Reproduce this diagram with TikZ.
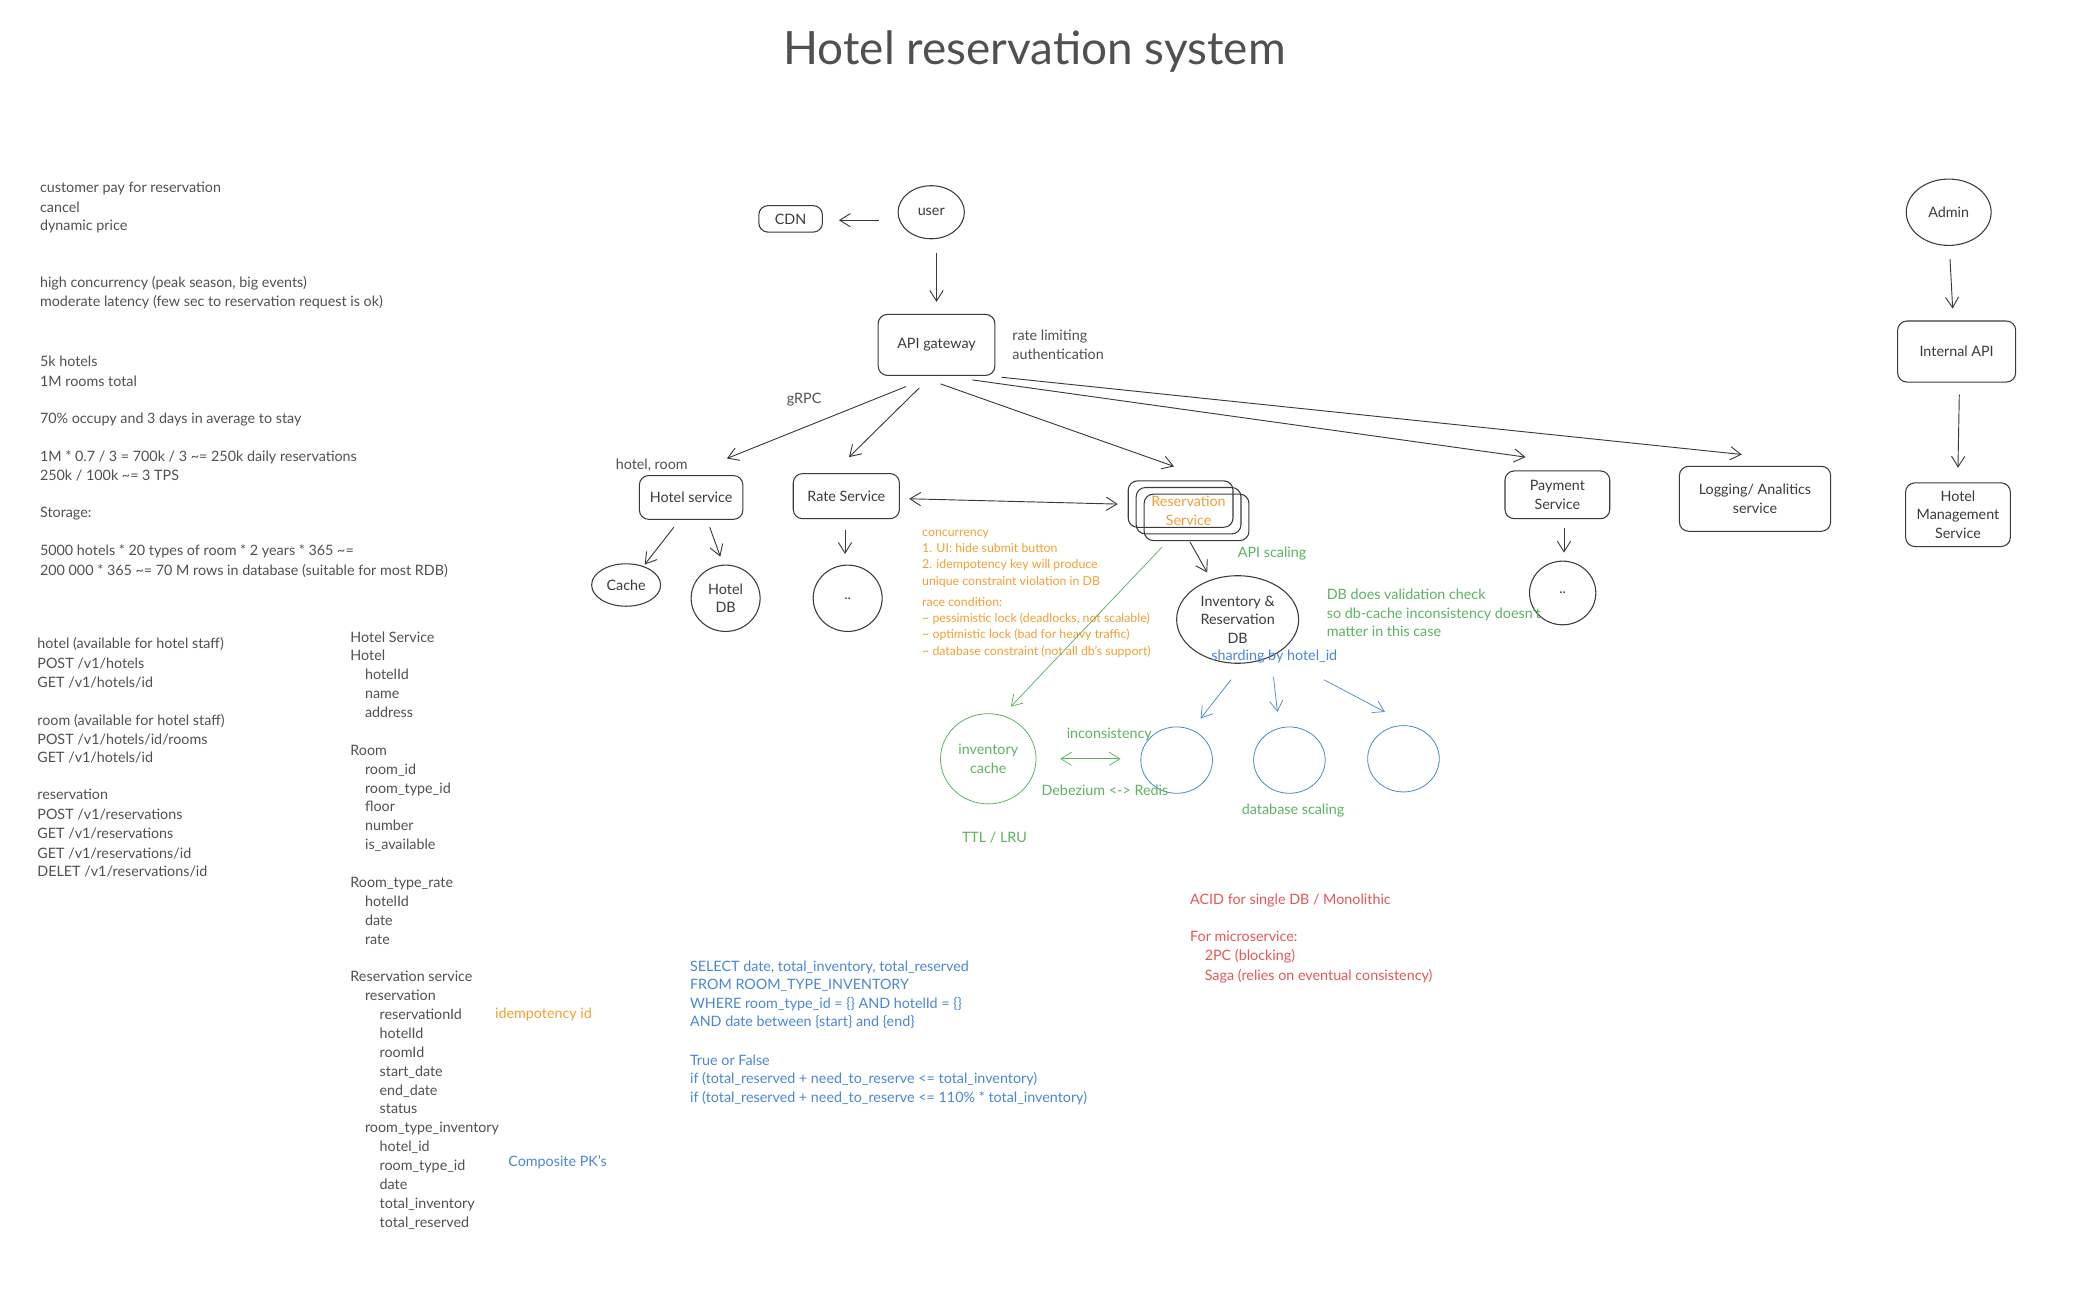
\documentclass[tikz,border=0pt]{standalone}
\usepackage{fontspec}
\setmainfont{Lato}
\usetikzlibrary{arrows.meta,shapes.geometric,calc}
\definecolor{ink}{HTML}{3A3A3A}
\definecolor{txt}{HTML}{505050}
\definecolor{orn}{HTML}{F0A033}
\definecolor{grn}{HTML}{5DB160}
\definecolor{blu}{HTML}{4A86D6}
\definecolor{rd}{HTML}{E35656}
\begin{document}
\begin{tikzpicture}[x=1pt,y=-1pt,
  every node/.style={font=\fontsize{10.8}{14}\selectfont, text=txt},
  box/.style={draw=ink, line width=0.8pt, rounded corners=7pt, align=center, inner sep=2pt, text=ink},
  oval/.style={ellipse, draw=ink, line width=0.8pt, align=center, inner sep=0pt, text=ink},
  arr/.style={draw=ink, line width=0.7pt, -{Straight Barb[length=8pt,width=10pt]}},
  darr/.style={draw=ink, line width=0.7pt, {Straight Barb[length=8pt,width=10pt]}-{Straight Barb[length=8pt,width=10pt]}},
  garr/.style={arr, draw=grn, line width=0.55pt},
  gdarr/.style={darr, draw=grn, line width=0.55pt},
  barr/.style={arr, draw=blu, line width=0.55pt},
  lbl/.style={anchor=base west, inner sep=0pt},
  small/.style={font=\fontsize{9.3}{11}\selectfont},
]
\useasboundingbox (0,0) rectangle (1568,985);

% title
\node[font=\fontsize{34.6}{40}\selectfont, text=txt] (title) at (780,39) {Hotel reservation system};

% left top notes
\foreach \yy/\t in {145/{customer pay for reservation}, 160/cancel, 174/{dynamic price},
  217/{high concurrency (peak season, big events)}, 231/{moderate latency (few sec to reservation request is ok)},
  276/{5k hotels}, 291/{1M rooms total}, 319/{70\% occupy and 3 days in average to stay},
  348/{1M * 0.7 / 3 = 700k / 3 \textasciitilde= 250k daily reservations}, 362/{250k / 100k \textasciitilde= 3 TPS},
  390/{Storage:}, 419/{5000 hotels * 20 types of room * 2 years * 365 \textasciitilde=},
  434/{200 000 * 365 \textasciitilde= 70 M rows in database (suitable for most RDB)}}
  \node[lbl] (tl\yy) at (30,\yy) {\t};

% left API notes
\foreach \yy/\t in {489/{hotel (available for hotel staff)}, 504/{POST /v1/hotels}, 518/{GET /v1/hotels/id},
  547/{room (available for hotel staff)}, 561/{POST /v1/hotels/id/rooms}, 575/{GET /v1/hotels/id},
  603/{reservation}, 618/{POST /v1/reservations}, 632/{GET /v1/reservations}, 647/{GET /v1/reservations/id},
  661/{DELET /v1/reservations/id}}
  \node[lbl] (ap\yy) at (28,\yy) {\t};

% schema
\foreach \i/\ind/\t in {0/0/{Hotel Service}, 1/0/{Hotel}, 2/1/{hotelId}, 3/1/{name}, 4/1/{address},
  6/0/{Room}, 7/1/{room\_id}, 8/1/{room\_type\_id}, 9/1/{floor}, 10/1/{number}, 11/1/{is\_available},
  13/0/{Room\_type\_rate}, 14/1/{hotelId}, 15/1/{date}, 16/1/{rate},
  18/0/{Reservation service}, 19/1/{reservation}, 20/2/{reservationId}, 21/2/{hotelId}, 22/2/{roomId},
  23/2/{start\_date}, 24/2/{end\_date}, 25/2/{status}, 26/1/{room\_type\_inventory}, 27/2/{hotel\_id},
  28/2/{room\_type\_id}, 29/2/{date}, 30/2/{total\_inventory}, 31/2/{total\_reserved}}
  \node[lbl] (sch\i) at ({264+11*\ind},{484+14.23*\i}) {\t};
\node[lbl, text=orn] (idem) at (373,768) {idempotency id};
\node[lbl, text=blu] (cpk) at (383,879) {Composite PK's};

% SQL
\foreach \yy/\t in {732/{SELECT date, total\_inventory, total\_reserved}, 746/{FROM ROOM\_TYPE\_INVENTORY},
  760/{WHERE room\_type\_id = \{\} AND hotelId = \{\}}, 774/{AND date between \{start\} and \{end\}},
  803/{True or False}, 817/{if (total\_reserved + need\_to\_reserve <= total\_inventory)},
  831/{if (total\_reserved + need\_to\_reserve <= 110\% * total\_inventory)}}
  \node[lbl, text=blu] (sql\yy) at (520,\yy) {\t};

% red notes
\node[lbl, text=rd] (acid) at (897,682) {ACID for single DB / Monolithic};
\node[lbl, text=rd] (micro) at (897,710) {For microservice:};
\node[lbl, text=rd] (tpc) at (908,724) {2PC (blocking)};
\node[lbl, text=rd] (saga) at (908,739) {Saga (relies on eventual consistency)};

% main diagram nodes
\node[box, minimum width=48pt, minimum height=20pt] (cdn) at (596,165) {CDN};
\node[oval, minimum width=50pt, minimum height=40pt] (user) at (702,160) {user};
\node[box, minimum width=88pt, minimum height=46pt] (api) at (706,260) {API gateway};
\node[box, minimum width=78pt, minimum height=33pt] (hotelsvc) at (521,375) {Hotel service};
\node[box, minimum width=80pt, minimum height=34pt] (ratesvc) at (638,374) {Rate Service};
\node[box, minimum width=79pt, minimum height=35pt] (res1) at (890,380) {};
\node[box, minimum width=79pt, minimum height=35pt] (res3) at (902,390) {};
\node[box, minimum width=79pt, minimum height=35pt, text=orn] (res2) at (896,385) {Reservation\\Service};
\node[oval, minimum width=92pt, minimum height=66pt] (invdb) at (933,467) {Inventory \&\\Reservation\\DB};
\node[oval, minimum width=52pt, minimum height=32pt] (cache) at (472,441) {Cache};
\node[oval, minimum width=52pt, minimum height=50pt] (hoteldb) at (547,451) {Hotel\\DB};
\node[oval, minimum width=52pt, minimum height=50pt] (ratedb) at (639,451) {..};
\node[box, minimum width=79pt, minimum height=36pt] (payment) at (1174,373) {Payment\\Service};
\node[oval, minimum width=50pt, minimum height=48pt] (paydb) at (1178,447) {..};
\node[box, minimum width=114pt, minimum height=49pt] (logging) at (1323,376) {Logging/ Analitics\\service};
\node[oval, minimum width=64pt, minimum height=50pt] (admin) at (1469,160) {Admin};
\node[box, minimum width=89pt, minimum height=46pt] (internal) at (1475,265) {Internal API};
\node[box, minimum width=79pt, minimum height=48pt] (hms) at (1476,388) {Hotel\\Management\\Service};
\node[oval, draw=grn, line width=0.6pt, text=grn, minimum width=72pt, minimum height=68pt] (invcache) at (745,572) {inventory\\cache};
\node[oval, draw=blu, line width=0.6pt, minimum width=54pt, minimum height=50pt] (shard1) at (887,573) {};
\node[oval, draw=blu, line width=0.6pt, minimum width=54pt, minimum height=50pt] (shard2) at (972,573) {};
\node[oval, draw=blu, line width=0.6pt, minimum width=54pt, minimum height=50pt] (shard3) at (1058,572) {};

% labels
\node[lbl] (rl1) at (763,257) {rate limiting};
\node[lbl] (rl2) at (763,271) {authentication};
\node[lbl] (grpc) at (593,304) {gRPC};
\node[lbl] (hroom) at (464,354) {hotel, room};
\node[lbl, text=grn] (apis) at (933,420) {API scaling};
\node[lbl, text=blu] (shardlbl) at (913,498) {sharding by hotel\_id};
\node[lbl, text=grn] (dbv1) at (1000,452) {DB does validation check};
\node[lbl, text=grn] (dbv2) at (1000,466) {so db-cache inconsistency doesn't};
\node[lbl, text=grn] (dbv3) at (1000,480) {matter in this case};
\node[lbl, text=grn] (incons) at (804,557) {inconsistency};
\node[lbl, text=grn] (debez) at (785,600) {Debezium <-> Redis};
\node[lbl, text=grn] (dbscale) at (936,614) {database scaling};
\node[lbl, text=grn] (ttl) at (725,635) {TTL / LRU};

\foreach \yy/\t in {404.5/{concurrency}, 416.7/{1. UI: hide submit button}, 428.9/{2. idempotency key will produce},
  441.1/{unique constraint violation in DB}, 457.3/{race condition:},
  469.5/{\textasciitilde\ pessimistic lock (deadlocks, not scalable)},
  481.7/{\textasciitilde\ optimistic lock (bad for heavy traffic)},
  493.9/{\textasciitilde\ database constraint (not all db's support)}}
  \node[lbl, small, text=orn] (conc\yy) at (695,\yy) {\t};

% connectors
\draw[arr] ($(user.west)+(-14,6)$) -- ($(cdn.east)+(12,1)$);
\draw[arr] ($(user.south)+(4,10)$) -- ($(api.north)+(0,-9)$);
\draw[arr] ($(api.south)+(-23,8)$) -- ($(hotelsvc.north)+(27,-12.5)$);
\draw[arr] ($(api.south)+(-13,9)$) -- ($(ratesvc.north)+(2,-12)$);
\draw[arr] ($(api.south)+(3,6)$) -- ($(res1.north)+(-5,-10.5)$);
\draw[arr] ($(api.south)+(27,3)$) -- ($(payment.north)+(-24,-10)$);
\draw[arr] ($(api.south)+(49,1)$) -- ($(logging.north)+(-10,-8.5)$);
\draw[darr] ($(ratesvc.east)+(7,2)$) -- ($(res1.west)+(-7.5,0)$);
\draw[arr] ($(hotelsvc.south)+(-13,5.5)$) -- ($(cache.north)+(14,1)$);
\draw[arr] ($(hotelsvc.south)+(14,5.5)$) -- ($(hoteldb.north)+(-4,-6)$);
\draw[arr] ($(ratesvc.south)+(-1,8)$) -- ($(ratedb.north)+(-2,-8)$);
\draw[arr] ($(res1.south)+(7,10.5)$) -- ($(invdb.north)+(-23,-2)$);
\draw[garr] ($(res1.south)+(-14,14.5)$) -- ($(invcache.north)+(17,-5)$);
\draw[gdarr] ($(invcache.east)+(18,0)$) -- ($(shard1.west)+(-15,-1)$);
\draw[barr] ($(invdb.south)+(-5,12)$) -- ($(shard1.north)+(18,-6)$);
\draw[barr] ($(invdb.south)+(27,10)$) -- ($(shard2.north)+(-9,-11)$);
\draw[barr] ($(invdb.south)+(65,12)$) -- ($(shard3.north)+(-14,-10)$);
\draw[arr] ($(payment.south)+(5,7)$) -- ($(paydb.north)+(1,-6)$);
\draw[arr] ($(admin.south)+(1,10)$) -- ($(internal.north)+(-3,-9)$);
\draw[arr] ($(internal.south)+(2,9)$) -- ($(hms.north)+(0,-11)$);
\end{tikzpicture}
\end{document}
